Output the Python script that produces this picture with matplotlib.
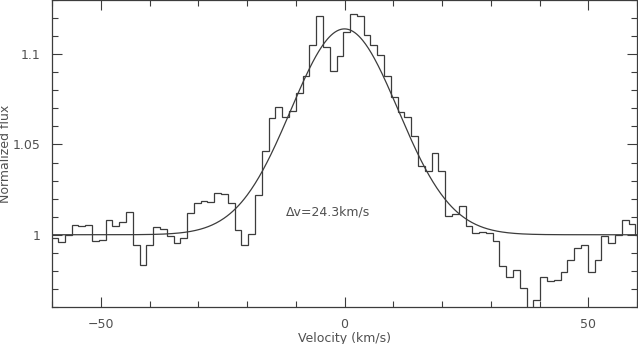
import numpy as np
import matplotlib
matplotlib.use("Agg")
import matplotlib.pyplot as plt
from matplotlib.ticker import MultipleLocator

# velocity binning of the spectrum (km/s)
v_start = -60.15
v_step = 1.393

# normalized flux per velocity bin
flux = [0.9981, 0.9959, 0.9996, 1.0056, 1.0050, 1.0056, 0.9964, 0.9972, 1.0083, 1.0050,
        1.0072, 1.0128, 0.9944, 0.9833, 0.9944, 1.0044, 1.0031, 0.9991, 0.9953, 0.9983,
        1.0118, 1.0178, 1.0189, 1.0179, 1.0231, 1.0228, 1.0174, 1.0024, 0.9944, 1.0006,
        1.0218, 1.0463, 1.0648, 1.0706, 1.0650, 1.0685, 1.0787, 1.0879, 1.1052, 1.1213,
        1.1042, 1.0909, 1.0990, 1.1122, 1.1222, 1.1209, 1.1107, 1.1052, 1.0996, 1.0879,
        1.0764, 1.0678, 1.0653, 1.0548, 1.0381, 1.0352, 1.0450, 1.0352, 1.0102, 1.0113,
        1.0159, 1.0048, 1.0009, 1.0014, 1.0009, 0.9964, 0.9826, 0.9764, 0.9806, 0.9706,
        0.9550, 0.9639, 0.9764, 0.9746, 0.9750, 0.9796, 0.9861, 0.9928, 0.9944, 0.9796,
        0.9861, 0.9991, 0.9956, 0.9996, 1.0083, 1.0061, 0.9996]

# gaussian fit parameters
fit_amp = 0.114
fit_center = 0.0
fit_sigma = 11.0
label = "\u0394v=24.3km/s"

edges = v_start + v_step * np.arange(len(flux) + 1)
vfit = np.linspace(-60, 60, 600)
ffit = 1 + fit_amp * np.exp(-(vfit - fit_center) ** 2 / (2 * fit_sigma ** 2))

fig = plt.figure(figsize=(6.38, 3.44), dpi=100)
ax = fig.add_axes([0.0815, 0.1076, 0.917, 0.8924])

ink = '#3c3c3c'
txt = '#505050'
ax.stairs(flux, edges, color=ink, linewidth=0.9)
ax.plot(vfit, ffit, color=ink, linewidth=0.9)

ax.text(-12.0, 1.0124, label, ha='left', va='center', fontsize=9, color=txt)

ax.set_xlim(-60, 60)
ax.set_ylim(0.96, 1.13)
ax.xaxis.set_major_locator(MultipleLocator(50))
ax.xaxis.set_minor_locator(MultipleLocator(10))
ax.yaxis.set_major_locator(MultipleLocator(0.05))
ax.yaxis.set_minor_locator(MultipleLocator(0.01))
ax.set_yticks([1.0, 1.05, 1.1])
ax.set_yticklabels(['1', '1.05', '1.1'])
ax.set_xticks([-50, 0, 50])
ax.set_xticklabels(['\u221250', '0', '50'])

ax.tick_params(which='both', direction='in', top=True, right=True,
               color=ink, labelcolor=txt, labelsize=9, width=0.8)
ax.tick_params(which='major', length=7, pad=8)
ax.tick_params(which='minor', length=4)
for s in ax.spines.values():
    s.set_color(ink)
    s.set_linewidth(0.9)

ax.set_xlabel('Velocity (km/s)', fontsize=9, color=txt, labelpad=1)
ax.set_ylabel('Normalized flux', fontsize=9, color=txt, labelpad=1)

fig.savefig('out.png', dpi=100)
